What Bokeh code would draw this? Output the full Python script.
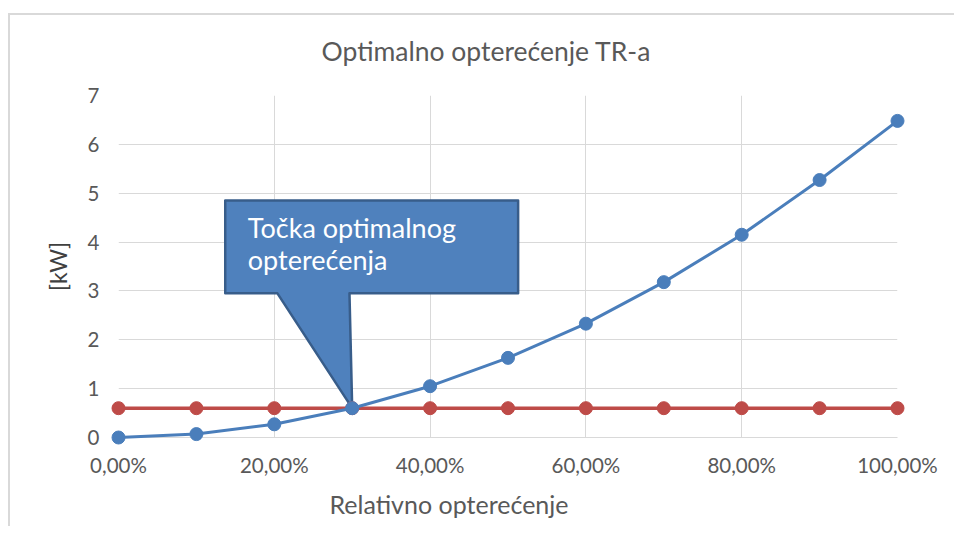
from bokeh.plotting import figure
from bokeh.models import Range1d, FixedTicker, Label, Title
from bokeh.embed import file_html
from bokeh.resources import INLINE

# ---- data ----
load_pct = [0, 10, 20, 30, 40, 50, 60, 70, 80, 90, 100]
p_cu = [0.0, 0.07, 0.27, 0.6, 1.05, 1.63, 2.33, 3.18, 4.15, 5.27, 6.48]
p_fe = [0.6, 0.6, 0.6, 0.6, 0.6, 0.6, 0.6, 0.6, 0.6, 0.6, 0.6]
x_ticks = [0, 20, 40, 60, 80, 100]
x_tick_labels = ["0,00%", "20,00%", "40,00%", "60,00%", "80,00%", "100,00%"]
y_ticks = [0, 1, 2, 3, 4, 5, 6, 7]

title_text = "Optimalno opterećenje TR-a"
x_label = "Relativno opterećenje"
y_label = "[kW]"
callout_lines = ["Točka optimalnog", "opterećenja"]

FONT = "Lato"
GRID = "#d9d9d9"
TXT = "#595959"
BLUE = "#4a7ebb"
RED = "#be4b48"

p = figure(width=946, height=520, output_backend="svg", toolbar_location=None,
           x_range=Range1d(0, 100), y_range=Range1d(0, 7),
           min_border_left=110, min_border_right=57, min_border_top=89, min_border_bottom=89,
           title=None)
# light chart-area border (top and left), drawn as the host background
p.border_fill_color = None
p.styles = {"margin-top": "6px", "margin-left": "8px",
            "background": "linear-gradient(#d9d9d9, #d9d9d9) 0px 7px / 100% 2px no-repeat, "
                          "linear-gradient(#d9d9d9, #d9d9d9) 0px 7px / 2px 100% no-repeat, #ffffff"}
p.outline_line_color = None
p.background_fill_color = "white"

# small spacer between the frame and the chart title
p.add_layout(Title(text=" ", standoff=0, text_font=FONT, text_font_size="4px"), "above")
p.add_layout(Title(text=title_text, align="left", offset=203, standoff=40, vertical_align="top",
                   text_font=FONT, text_font_size="26.5px", text_font_style="normal",
                   text_color=TXT), "above")

p.xaxis.ticker = FixedTicker(ticks=x_ticks)
p.xaxis.major_label_overrides = {t: l for t, l in zip(x_ticks, x_tick_labels)}
p.yaxis.ticker = FixedTicker(ticks=y_ticks)
for ax in (p.xaxis, p.yaxis):
    ax.major_tick_line_color = None
    ax.minor_tick_line_color = None
    ax.major_label_text_font = FONT
    ax.major_label_text_font_size = "20.5px"
    ax.major_label_text_color = TXT
p.xaxis.axis_line_color = GRID
p.yaxis.axis_line_color = None
p.xaxis.major_label_standoff = 9
p.yaxis.major_label_standoff = 13
p.yaxis.axis_label = y_label
p.yaxis.axis_label_text_font = FONT
p.yaxis.axis_label_text_font_size = "23px"
p.yaxis.axis_label_text_font_style = "normal"
p.yaxis.axis_label_text_color = "#404040"
p.yaxis.axis_label_standoff = 13

# x axis title, placed left of the frame centre as in the original
p.add_layout(Title(text=x_label, align="left", offset=211, standoff=15,
                   text_font=FONT, text_font_size="25px", text_font_style="normal",
                   text_color=TXT), "below")

p.xgrid.grid_line_color = GRID
p.ygrid.grid_line_color = GRID
p.xgrid.ticker = FixedTicker(ticks=x_ticks)
p.ygrid.ticker = FixedTicker(ticks=y_ticks)

# callout shape (annotation), pointing to the crossing point
tip_x, tip_y = load_pct[3], p_fe[3]
bx0, bx1, by0, by1 = 13.7, 51.3, 2.95, 4.85
cx = [bx0, bx1, bx1, 29.65, tip_x, 20.4, bx0]
cy = [by1, by1, by0, by0, tip_y, by0, by0]
p.patch(cx, cy, fill_color="#4f81bd", line_color="#385d8a", line_width=2.5, line_join="round")
p.add_layout(Label(x=16.6, y=4.3, text=callout_lines[0], text_baseline="alphabetic",
                   text_font=FONT, text_font_size="27px", text_color="white"))
p.add_layout(Label(x=16.6, y=3.64, text=callout_lines[1], text_baseline="alphabetic",
                   text_font=FONT, text_font_size="27px", text_color="white"))

p.line(load_pct, p_fe, line_color=RED, line_width=3.5, level="overlay")
p.scatter(load_pct, p_fe, size=13, fill_color=RED, line_color=RED, level="overlay")
p.line(load_pct, p_cu, line_color=BLUE, line_width=3, level="overlay")
p.scatter(load_pct, p_cu, size=13, fill_color=BLUE, line_color=BLUE, level="overlay")

open("out.html", "w").write(file_html(p, INLINE))
